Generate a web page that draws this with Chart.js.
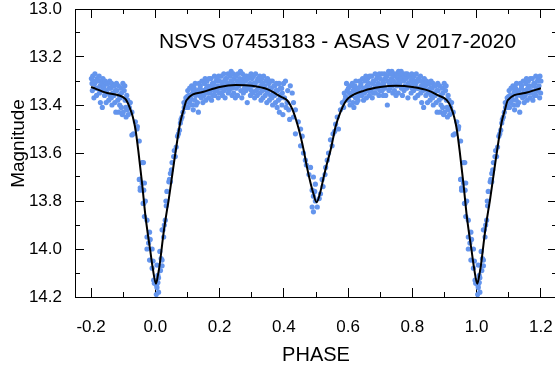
<!DOCTYPE html>
<html><head><meta charset="utf-8">
<script src="https://cdn.jsdelivr.net/npm/chart.js@4.4.1/dist/chart.umd.min.js"></script>
<style>html,body{margin:0;padding:0;overflow:hidden;background:#fff}#wrap{position:absolute;left:0;top:0;width:561px;height:372px}</style>
</head><body><div id="wrap"><canvas id="c" width="561" height="372"></canvas></div>
<script>
const chartTitle = 'NSVS 07453183 - ASAS V 2017-2020';
const xTitle = 'PHASE';
const yTitle = 'Magnitude';
const xTicks = [-0.2, 0.0, 0.2, 0.4, 0.6, 0.8, 1.0, 1.2];
const xMinorTicks = [-0.1, 0.1, 0.3, 0.5, 0.7, 0.9, 1.1];
const yTicks = [13.0, 13.2, 13.4, 13.6, 13.8, 14.0, 14.2];
const yMinorTicks = [13.1, 13.3, 13.5, 13.7, 13.9, 14.1];

// observations [phase, magnitude], phases folded into 0..1
const primaryEgress = [[0.003,14.19],[0.005,14.16],[0.010,14.18],[0.008,14.14],[0.010,14.12],[0.016,14.09],[0.021,14.07],[0.014,14.01],[0.018,14.04],[0.005,14.067],[0.008,14.11],[0.004,14.15],[0.021,14.046],[0.026,13.95],[0.021,13.92],[0.031,13.88],[0.028,13.90],[0.024,13.92],[0.036,13.76],[0.034,13.82],[0.033,13.80],[0.042,13.72],[0.044,13.71],[0.047,13.685],[0.052,13.64],[0.050,13.67],[0.057,13.615],[0.047,13.72],[0.062,13.615],[0.059,13.59],[0.065,13.575],[0.069,13.53],[0.072,13.52],[0.075,13.505],[0.078,13.475],[0.083,13.45],[0.080,13.46],[0.086,13.43],[0.090,13.41],[0.093,13.40],[0.096,13.38],[0.099,13.365],[0.095,13.37],[0.089,13.39],[0.097,13.41]];
const outsideA = [
[0.101,13.34],[0.102,13.41],[0.104,13.36],[0.106,13.39],[0.107,13.33],[0.109,13.38],
[0.110,13.37],[0.113,13.32],[0.115,13.40],[0.116,13.35],[0.118,13.42],[0.119,13.34],
[0.121,13.33],[0.123,13.38],[0.124,13.31],[0.125,13.36],[0.127,13.40],[0.129,13.35],
[0.131,13.39],[0.132,13.34],[0.134,13.43],[0.136,13.31],[0.137,13.36],[0.139,13.33],
[0.140,13.32],[0.143,13.37],[0.145,13.30],[0.146,13.35],[0.148,13.39],[0.149,13.34],
[0.151,13.36],[0.153,13.31],[0.154,13.34],[0.155,13.29],[0.157,13.38],[0.159,13.33],
[0.161,13.30],[0.162,13.35],[0.164,13.32],[0.166,13.37],[0.167,13.29],[0.169,13.34],
[0.170,13.35],[0.173,13.29],[0.175,13.38],[0.176,13.32],[0.178,13.31],[0.179,13.36],
[0.181,13.31],[0.183,13.34],[0.184,13.28],[0.185,13.36],[0.187,13.33],[0.189,13.30],
[0.191,13.34],[0.192,13.29],[0.194,13.32],[0.196,13.37],[0.197,13.28],[0.199,13.35],
[0.200,13.30],[0.203,13.33],[0.205,13.28],[0.206,13.35],[0.208,13.31],[0.209,13.36],
[0.211,13.32],[0.213,13.27],[0.214,13.34],[0.215,13.30],[0.217,13.37],[0.219,13.29],
[0.221,13.29],[0.222,13.33],[0.224,13.31],[0.226,13.27],[0.227,13.35],[0.229,13.32],
[0.230,13.34],[0.233,13.28],[0.235,13.30],[0.236,13.26],[0.238,13.33],[0.239,13.36],
[0.241,13.31],[0.243,13.27],[0.244,13.35],[0.245,13.29],[0.247,13.32],[0.249,13.37],
[0.251,13.28],[0.252,13.33],[0.254,13.30],[0.256,13.36],[0.257,13.27],[0.259,13.31],
[0.260,13.32],[0.263,13.29],[0.265,13.26],[0.266,13.34],[0.268,13.30],[0.269,13.37],
[0.271,13.27],[0.273,13.31],[0.274,13.35],[0.275,13.29],[0.277,13.33],[0.279,13.28],
[0.281,13.30],[0.282,13.34],[0.284,13.28],[0.286,13.39],[0.287,13.32],[0.289,13.29],
[0.290,13.33],[0.293,13.28],[0.295,13.31],[0.296,13.36],[0.298,13.27],[0.299,13.34],
[0.301,13.29],[0.303,13.32],[0.304,13.35],[0.305,13.28],[0.307,13.31],[0.309,13.37],
[0.311,13.31],[0.312,13.27],[0.314,13.34],[0.316,13.30],[0.317,13.36],[0.319,13.29],
[0.320,13.33],[0.323,13.30],[0.325,13.28],[0.326,13.35],[0.328,13.32],[0.329,13.38],
[0.331,13.29],[0.333,13.34],[0.334,13.31],[0.335,13.37],[0.337,13.28],[0.339,13.33],
[0.341,13.32],[0.342,13.36],[0.344,13.30],[0.346,13.34],[0.347,13.39],[0.349,13.29],
[0.350,13.35],[0.353,13.31],[0.355,13.38],[0.356,13.33],[0.358,13.30],[0.359,13.36],
[0.361,13.33],[0.363,13.37],[0.364,13.30],[0.365,13.40],[0.367,13.35],[0.369,13.32],
[0.371,13.36],[0.372,13.32],[0.374,13.39],[0.376,13.34],[0.377,13.31],[0.379,13.41],
[0.380,13.34],[0.383,13.38],[0.385,13.31],[0.386,13.43],[0.388,13.36],[0.389,13.33],
[0.391,13.37],[0.393,13.33],[0.394,13.40],[0.395,13.35],[0.397,13.44],[0.399,13.31]];
const secondary = [[0.405,13.30],[0.402,13.37],[0.407,13.41],[0.420,13.32],[0.426,13.35],[0.410,13.39],[0.415,13.42],[0.412,13.34],[0.418,13.46],[0.430,13.39],[0.436,13.42],[0.430,13.45],[0.445,13.47],[0.452,13.50],[0.436,13.52],[0.457,13.53],[0.452,13.57],[0.461,13.60],[0.467,13.63],[0.470,13.65],[0.483,13.66],[0.478,13.69],[0.492,13.70],[0.498,13.73],[0.488,13.755],[0.492,13.78],[0.498,13.80],[0.488,13.825],[0.492,13.845],[0.504,13.825],[0.496,13.76],[0.514,13.77],[0.522,13.74],[0.519,13.71],[0.510,13.79],[0.530,13.66],[0.535,13.63],[0.539,13.60],[0.545,13.545],[0.553,13.52],[0.561,13.48],[0.570,13.50],[0.566,13.45],[0.576,13.42],[0.582,13.39],[0.592,13.365],[0.597,13.34],[0.550,13.57],[0.528,13.69],[0.558,13.51],[0.586,13.41],[0.590,13.38],[0.595,13.31],[0.588,13.35]];
const outsideB = [
[0.601,13.33],[0.602,13.38],[0.604,13.35],[0.606,13.40],[0.607,13.32],[0.609,13.36],
[0.610,13.36],[0.613,13.31],[0.615,13.39],[0.616,13.34],[0.618,13.41],[0.619,13.33],
[0.621,13.32],[0.623,13.37],[0.624,13.30],[0.625,13.35],[0.627,13.39],[0.629,13.34],
[0.631,13.38],[0.632,13.33],[0.634,13.36],[0.636,13.30],[0.637,13.35],[0.639,13.32],
[0.640,13.31],[0.643,13.36],[0.645,13.29],[0.646,13.34],[0.648,13.38],[0.649,13.33],
[0.651,13.35],[0.653,13.30],[0.654,13.33],[0.655,13.28],[0.657,13.37],[0.659,13.32],
[0.661,13.29],[0.662,13.34],[0.664,13.31],[0.666,13.36],[0.667,13.28],[0.669,13.33],
[0.670,13.34],[0.673,13.28],[0.675,13.37],[0.676,13.31],[0.678,13.30],[0.679,13.35],
[0.681,13.30],[0.683,13.33],[0.684,13.27],[0.685,13.35],[0.687,13.32],[0.689,13.29],
[0.691,13.33],[0.692,13.28],[0.694,13.31],[0.696,13.36],[0.697,13.27],[0.699,13.34],
[0.700,13.29],[0.703,13.32],[0.705,13.27],[0.706,13.34],[0.708,13.30],[0.709,13.36],
[0.711,13.31],[0.713,13.27],[0.714,13.33],[0.715,13.29],[0.717,13.36],[0.719,13.28],
[0.721,13.28],[0.722,13.40],[0.724,13.30],[0.726,13.26],[0.727,13.34],[0.729,13.31],
[0.730,13.33],[0.733,13.27],[0.735,13.29],[0.736,13.26],[0.738,13.32],[0.739,13.35],
[0.741,13.30],[0.743,13.27],[0.744,13.34],[0.745,13.28],[0.747,13.31],[0.749,13.36],
[0.751,13.27],[0.752,13.32],[0.754,13.29],[0.756,13.35],[0.757,13.26],[0.759,13.30],
[0.760,13.31],[0.763,13.28],[0.765,13.26],[0.766,13.33],[0.768,13.29],[0.769,13.36],
[0.771,13.27],[0.773,13.30],[0.774,13.34],[0.775,13.28],[0.777,13.32],[0.779,13.27],
[0.781,13.29],[0.782,13.33],[0.784,13.27],[0.786,13.37],[0.787,13.31],[0.789,13.28],
[0.790,13.32],[0.793,13.28],[0.795,13.30],[0.796,13.35],[0.798,13.27],[0.799,13.33],
[0.801,13.29],[0.803,13.31],[0.804,13.34],[0.805,13.28],[0.807,13.30],[0.809,13.37],
[0.811,13.31],[0.812,13.27],[0.814,13.33],[0.816,13.30],[0.817,13.36],[0.819,13.29],
[0.820,13.33],[0.823,13.30],[0.825,13.28],[0.826,13.35],[0.828,13.32],[0.829,13.39],
[0.831,13.30],[0.833,13.34],[0.834,13.31],[0.835,13.41],[0.837,13.29],[0.839,13.33],
[0.841,13.32],[0.842,13.36],[0.844,13.30],[0.846,13.34],[0.847,13.39],[0.849,13.31],
[0.850,13.35],[0.853,13.31],[0.855,13.38],[0.856,13.33],[0.858,13.30],[0.859,13.36],
[0.861,13.33],[0.863,13.37],[0.864,13.31],[0.865,13.40],[0.867,13.35],[0.869,13.32],
[0.871,13.36],[0.872,13.32],[0.874,13.39],[0.876,13.34],[0.877,13.43],[0.879,13.31],
[0.880,13.34],[0.883,13.38],[0.885,13.32],[0.886,13.43],[0.888,13.36],[0.889,13.40],
[0.891,13.37],[0.893,13.33],[0.894,13.41],[0.895,13.35],[0.897,13.44],[0.899,13.31]];
const primaryIngress = [[0.900,13.43],[0.903,13.34],[0.905,13.32],[0.906,13.38],[0.908,13.41],[0.909,13.45],[0.911,13.36],[0.912,13.42],[0.916,13.44],[0.914,13.38],[0.922,13.39],[0.919,13.41],[0.927,13.43],[0.938,13.47],[0.944,13.49],[0.932,13.52],[0.943,13.50],[0.950,13.55],[0.927,13.525],[0.963,13.64],[0.959,13.64],[0.950,13.71],[0.951,13.71],[0.959,13.725],[0.966,13.725],[0.964,13.755],[0.953,13.745],[0.953,13.755],[0.969,13.80],[0.964,13.81],[0.962,13.81],[0.966,13.865],[0.974,13.88],[0.982,13.93],[0.984,13.96],[0.979,13.975],[0.974,13.95],[0.974,14.00],[0.990,14.00],[0.982,14.046],[0.993,14.05],[0.990,14.08],[0.995,14.13],[0.997,14.143]];

// model light curve
const modelPhase = [-0.2,-0.15,-0.093,-0.08,-0.07,-0.062,-0.053,-0.041,-0.031,-0.021,-0.016,-0.008,0.002,0.008,0.013,0.026,0.036,0.041,0.057,0.068,0.078,0.088,0.097,0.15,0.2,0.25,0.3,0.35,0.39,0.41,0.42,0.43,0.441,0.452,0.462,0.472,0.483,0.492,0.502,0.512,0.524,0.535,0.545,0.553,0.561,0.576,0.59,0.602,0.65,0.7,0.75,0.8,0.85,0.88,0.907,0.92,0.93,0.938,0.947,0.959,0.969,0.979,0.984,0.992,1.002,1.008,1.013,1.026,1.036,1.041,1.057,1.068,1.078,1.088,1.097,1.15,1.2];
const modelMag = [13.325,13.35,13.375,13.41,13.45,13.50,13.59,13.73,13.86,13.96,14.005,14.08,14.145,14.11,14.07,13.93,13.84,13.80,13.65,13.55,13.47,13.42,13.38,13.345,13.325,13.317,13.32,13.335,13.365,13.38,13.40,13.43,13.475,13.53,13.59,13.66,13.725,13.77,13.805,13.77,13.70,13.64,13.59,13.54,13.49,13.43,13.39,13.37,13.34,13.325,13.32,13.325,13.34,13.36,13.38,13.41,13.45,13.50,13.59,13.73,13.86,13.96,14.005,14.08,14.145,14.11,14.07,13.93,13.84,13.80,13.65,13.55,13.47,13.42,13.38,13.35,13.33];

const FONT = '"Liberation Sans", Arial, Helvetica, sans-serif';
const observations = [].concat(primaryEgress, outsideA, secondary, outsideB, primaryIngress);
const obsPts = [];
observations.forEach(([p, m]) => {
  obsPts.push({x: p, y: m});
  if (p >= 0.8) obsPts.push({x: p - 1, y: m});
  if (p <= 0.2) obsPts.push({x: p + 1, y: m});
});
const modelPts = modelPhase.map((p, i) => ({x: p, y: modelMag[i]}));

const labelsPlugin = {
  id: 'textlabels',
  afterDraw(chart) {
    const ctx = chart.ctx, a = chart.chartArea;
    ctx.save();
    ctx.fillStyle = '#000';
    ctx.textBaseline = 'alphabetic';
    ctx.textAlign = 'center';
    ctx.font = '21px ' + FONT;
    ctx.fillText(chartTitle, 337.5, 47.5);
    ctx.font = '20px ' + FONT;
    ctx.fillText(xTitle, (a.left + a.right) / 2, 361);
    ctx.translate(23.5, 143.5);
    ctx.rotate(-Math.PI / 2);
    ctx.font = '19px ' + FONT;
    ctx.fillText(yTitle, 0, 0);
    ctx.restore();
  }
};

const zeroPad = s => { s.paddingLeft = 0; s.paddingRight = 0; s.paddingTop = 0; s.paddingBottom = 0; };

// build an axis (major or minor, any side) that draws inward tick marks and optionally the axis line
function axis(kind, position, values, len, opts) {
  const isX = kind === 'x';
  const base = isX ? {min: -0.25, max: 1.25} : {min: 13.0, max: 14.2, reverse: true};
  return Object.assign({
    type: 'linear', axis: kind, position: position,
    afterBuildTicks: s => { s.ticks = values.map(v => ({value: v})); },
    afterFit: s => { if (isX) s.height = opts.size; else s.width = opts.size; zeroPad(s); },
    grid: {display: true, drawOnChartArea: false, drawTicks: true, tickLength: -len, color: '#000', tickColor: '#000', lineWidth: 1, tickWidth: 1},
    border: {display: !!opts.border, color: '#000', width: 1},
    weight: opts.weight || 0,
    ticks: opts.labels ? {
      display: true, callback: v => Number(v).toFixed(1), color: '#000', padding: opts.pad, maxRotation: 0, autoSkip: false,
      font: {family: FONT, size: 17, lineHeight: isX ? 1.2 : 1}
    } : {display: false}
  }, base);
}

new Chart(document.getElementById('c'), {
  type: 'scatter',
  data: {
    datasets: [
      {type: 'line', data: modelPts, xAxisID: 'x', yAxisID: 'y', order: 0, borderColor: '#000', borderWidth: 2, pointRadius: 0, fill: false, cubicInterpolationMode: 'monotone'},
      {type: 'scatter', data: obsPts, xAxisID: 'x', yAxisID: 'y', order: 1, backgroundColor: '#6495ED', borderWidth: 0, pointRadius: 2.6}
    ]
  },
  options: {
    responsive: false,
    animation: false,
    devicePixelRatio: 1,
    layout: {padding: {left: 0, right: 1, top: 9, bottom: 0}},
    plugins: {legend: {display: false}, tooltip: {enabled: false}},
    scales: {
      x: axis('x', 'bottom', xTicks, 9, {size: 75, border: true, labels: true, pad: 29, weight: 0}),
      xMinor: axis('x', 'bottom', xMinorTicks, 5, {size: 0, weight: -1}),
      xTop: axis('x', 'top', xTicks, 9, {size: 0, border: true}),
      xTopMinor: axis('x', 'top', xMinorTicks, 5, {size: 0, weight: -1}),
      y: axis('y', 'left', yTicks, 9, {size: 75, border: true, labels: true, pad: 22, weight: 0}),
      yMinor: axis('y', 'left', yMinorTicks, 5, {size: 0, weight: -1}),
      yRight: axis('y', 'right', yTicks, 9, {size: 0, border: true}),
      yRightMinor: axis('y', 'right', yMinorTicks, 5, {size: 0, weight: -1})
    }
  },
  plugins: [labelsPlugin]
});
</script></body></html>
